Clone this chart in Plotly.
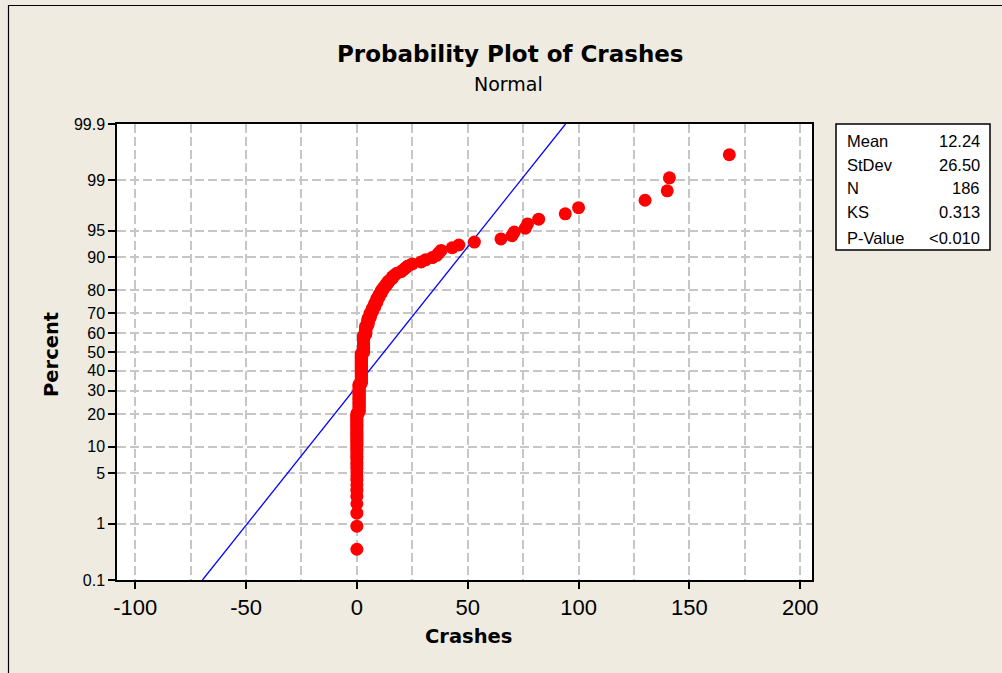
import plotly.graph_objects as go
from statistics import NormalDist

# ---- data ----
crash_values = [0, 1, 2, 3, 4, 5, 6, 7, 8, 9, 10, 11, 12, 13, 14, 15, 16, 17, 18, 20,
                21, 22, 23, 25, 29, 31, 34, 36, 37, 38, 43, 46, 53, 65, 70, 71, 76,
                77, 82, 94, 100, 130, 140, 141, 168]
crash_counts = [38, 24, 30, 18, 9, 7, 5, 4, 4, 4, 3, 3, 2, 2, 2, 1, 2, 1, 1, 1,
                1, 1, 1, 1, 1, 1, 1, 1, 1, 1, 1, 1, 1, 1, 1, 1, 1,
                1, 1, 1, 1, 1, 1, 1, 1]
mean_crashes = 12.24
stdev_crashes = 26.50
percent_ticks = [0.1, 1, 5, 10, 20, 30, 40, 50, 60, 70, 80, 90, 95, 99, 99.9]
percent_labels = ["0.1", "1", "5", "10", "20", "30", "40", "50", "60", "70", "80",
                  "90", "95", "99", "99.9"]
x_ticks = [-100, -50, 0, 50, 100, 150, 200]
stat_names = ["Mean", "StDev", "N", "KS", "P-Value"]
stat_values = ["12.24", "26.50", "186", "0.313", "<0.010"]

nd = NormalDist()

# expand sorted observations and median-rank plotting positions
obs = []
for v, c in zip(crash_values, crash_counts):
    obs.extend([v] * c)
n = len(obs)
z_obs = [nd.inv_cdf((i - 0.3) / (n + 0.4)) for i in range(1, n + 1)]

# fitted normal line
line_pct = [0.1, 99.9]
z_line = [nd.inv_cdf(p / 100) for p in line_pct]
x_line = [mean_crashes + stdev_crashes * z for z in z_line]

z_ticks = [nd.inv_cdf(p / 100) for p in percent_ticks]
zlim = nd.inv_cdf(0.999)

ARIAL = "Liberation Sans, Arial, sans-serif"
DEJAVU = "DejaVu Sans, Verdana, sans-serif"
BG = "#EFEBE1"
GRID = "#C6C6C6"

fig = go.Figure()
fig.add_trace(go.Scatter(x=x_line, y=z_line, mode="lines",
                         line=dict(color="#0000FF", width=1.3), hoverinfo="skip",
                         showlegend=False))
fig.add_trace(go.Scatter(x=obs, y=z_obs, mode="markers",
                         marker=dict(color="#FF0000", size=13, line=dict(width=0)),
                         showlegend=False))

fig.update_layout(
    width=1002, height=673,
    margin=dict(l=117, r=190, t=124, b=93),
    paper_bgcolor=BG, plot_bgcolor="white",
    font=dict(family=ARIAL, color="black"),
    xaxis=dict(range=[-108.2, 205.3], tickvals=x_ticks,
               ticktext=[str(t) if t >= 0 else "-" + str(-t) for t in x_ticks],
               ticks="outside", ticklen=7, tickwidth=1.5, tickcolor="black",
               tickfont=dict(size=22, family=ARIAL),
               showgrid=True, gridcolor=GRID, griddash="9px,4px", gridwidth=1.5,
               minor=dict(dtick=25, tick0=-100, showgrid=True, gridcolor=GRID,
                          griddash="9px,4px", gridwidth=1.5),
               showline=True, linecolor="black", linewidth=1.5, mirror=True,
               zeroline=False),
    yaxis=dict(range=[-zlim, zlim], tickvals=z_ticks, ticktext=percent_labels,
               ticks="outside", ticklen=7, tickwidth=1.5, tickcolor="black",
               tickfont=dict(size=16, family=ARIAL),
               showgrid=True, gridcolor=GRID, griddash="9px,4px", gridwidth=1.5,
               showline=True, linecolor="black", linewidth=1.5, mirror=True,
               zeroline=False),
)

PW, PH = 695.0, 456.0
def px(xp):
    return (xp - 117) / PW
def py(yp):
    return (580 - yp) / PH

annos = [
    dict(text="<b>Probability Plot of Crashes</b>", x=px(510), y=py(54),
         font=dict(size=23, family=DEJAVU)),
    dict(text="Normal", x=px(508), y=py(84), font=dict(size=19, family=DEJAVU)),
    dict(text="<b>Crashes</b>", x=px(468), y=py(636), font=dict(size=19.5, family=DEJAVU)),
    dict(text="<b>Percent</b>", x=px(51), y=py(355), font=dict(size=19.5, family=DEJAVU),
         textangle=-90),
]
row_y = [141, 164.5, 188, 212, 238]
for name, val, ry in zip(stat_names, stat_values, row_y):
    annos.append(dict(text=name, x=px(845), y=py(ry), xanchor="left",
                      font=dict(size=16.5)))
    annos.append(dict(text=val, x=px(982), y=py(ry), xanchor="right",
                      font=dict(size=16.5)))
for a in annos:
    a.setdefault("xanchor", "center")
    a.update(xref="paper", yref="paper", yanchor="middle", showarrow=False)
    fig.add_annotation(**a)

fig.add_shape(type="rect", xref="paper", yref="paper",
              x0=px(836), x1=px(990), y0=py(250), y1=py(124),
              line=dict(color="black", width=1.5), fillcolor="white", layer="below")
fig.add_shape(type="rect", xref="paper", yref="paper",
              x0=px(8.5), x1=px(1100), y0=py(720), y1=py(5.5),
              line=dict(color="black", width=1.2), layer="above")

fig.write_html("out.html", config={"displayModeBar": False},
               post_script="document.body.style.margin='0';"
                           "document.body.style.background='#EFEBE1';")
